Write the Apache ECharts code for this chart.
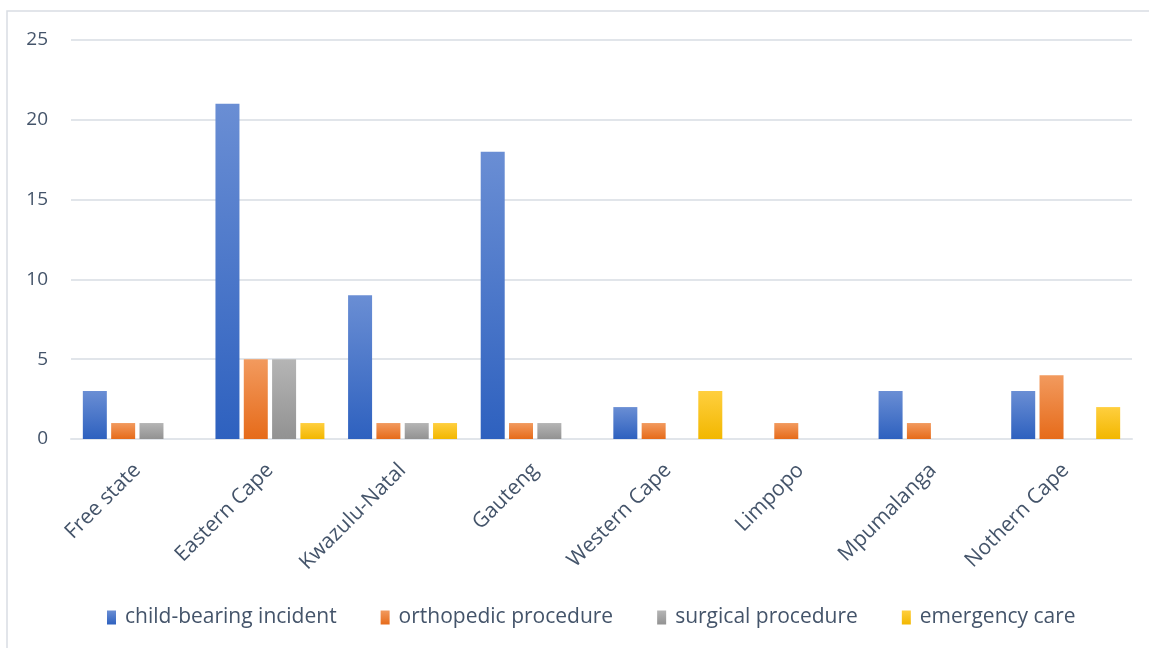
<!DOCTYPE html>
<html>
<head>
<meta charset="utf-8">
<script src="https://cdn.jsdelivr.net/npm/echarts@6/dist/echarts.min.js"></script>
<style>
  html, body { margin: 0; padding: 0; background: #fff; }
  #chart { width: 1149px; height: 648px; }
</style>
</head>
<body>
<div id="chart"></div>
<script>
const provinces = ['Free state', 'Eastern Cape', 'Kwazulu-Natal', 'Gauteng', 'Western Cape', 'Limpopo', 'Mpumalanga', 'Nothern Cape']
const childBearing = [3, 21, 9, 18, 2, 0, 3, 3]
const orthopedic = [1, 5, 1, 1, 1, 1, 1, 4]
const surgical = [1, 5, 1, 1, 0, 0, 0, 0]
const emergency = [0, 1, 1, 0, 3, 0, 0, 2]

const textColor = '#44546a'
const font = 'Open Sans'

function grad(top, bottom) {
  return new echarts.graphic.LinearGradient(0, 0, 0, 1, [
    { offset: 0, color: top },
    { offset: 1, color: bottom }
  ])
}

function bar(name, data, top, bottom) {
  return {
    name: name,
    type: 'bar',
    data: data,
    barWidth: 24,
    barGap: '18%',
    itemStyle: { color: grad(top, bottom) }
  }
}

const chart = echarts.init(document.getElementById('chart'))
chart.setOption({
  animation: false,
  graphic: [
    {
      type: 'rect',
      shape: { x: 7, y: 11, width: 1160, height: 700 },
      style: { fill: 'none', stroke: '#d9dde3', lineWidth: 1.5 }
    }
  ],
  grid: { left: 71, right: 17, top: 40, bottom: 209 },
  legend: {
    top: 602,
    left: 102,
    itemWidth: 9,
    itemHeight: 14,
    itemGap: 44,
    icon: 'rect',
    textStyle: { color: textColor, fontFamily: font, fontSize: 21, padding: [0, 0, 0, 4] },
    data: ['child-bearing incident', 'orthopedic procedure', 'surgical procedure', 'emergency care']
  },
  xAxis: {
    type: 'category',
    data: provinces,
    axisTick: { show: false },
    axisLine: { lineStyle: { color: '#e1e5ea', width: 2 } },
    axisLabel: { rotate: 45, margin: 28, color: textColor, fontFamily: font, fontSize: 21 }
  },
  yAxis: {
    type: 'value',
    min: 0,
    max: 25,
    interval: 5,
    axisLine: { show: false },
    axisTick: { show: false },
    splitLine: { lineStyle: { color: '#e1e5ea', width: 2 } },
    axisLabel: { margin: 23, color: textColor, fontFamily: font, fontSize: 19 }
  },
  series: [
    bar('child-bearing incident', childBearing, '#6a8ed4', '#2e61bf'),
    bar('orthopedic procedure', orthopedic, '#f29a5e', '#e66b1a'),
    bar('surgical procedure', surgical, '#b5b5b5', '#929292'),
    bar('emergency care', emergency, '#ffcf3f', '#f2b700')
  ]
})
</script>
</body>
</html>
